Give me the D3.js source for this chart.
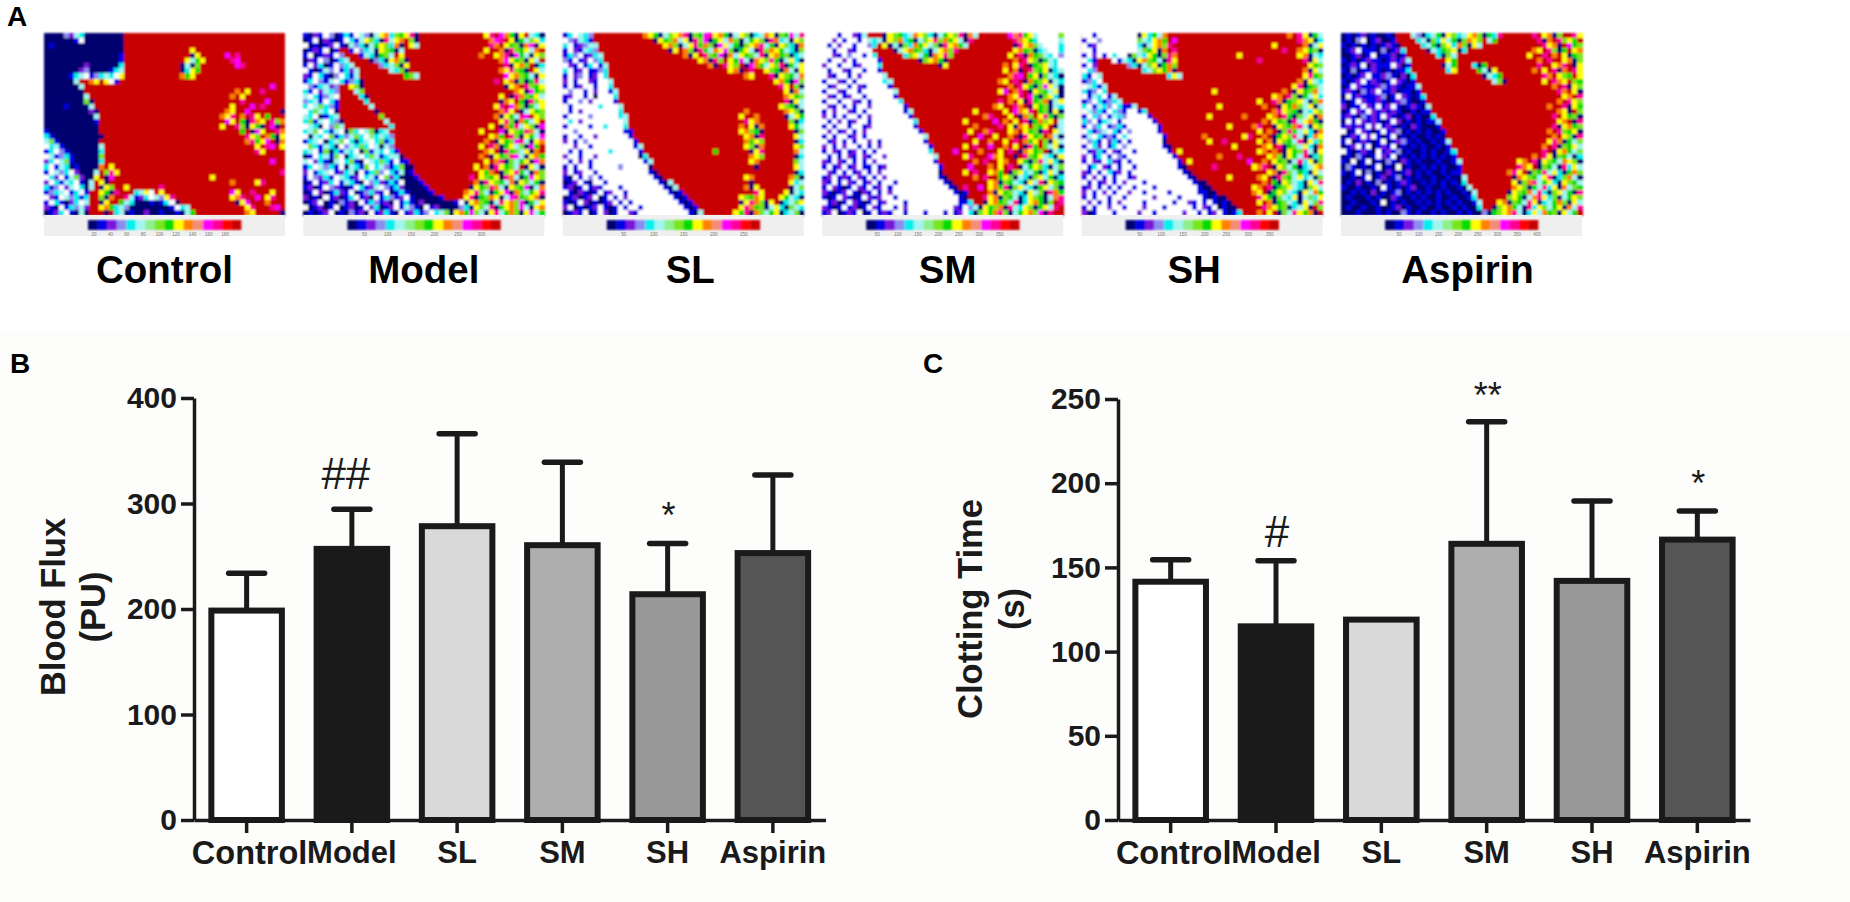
<!DOCTYPE html>
<html>
<head>
<meta charset="utf-8">
<script src="https://cdn.jsdelivr.net/npm/d3@7"></script>
<style>
  html, body { margin: 0; padding: 0; background: #ffffff; }
  svg { display: block; }
  text { font-family: "Liberation Sans", Arial, sans-serif; fill: #1a1a1a; }
</style>
</head>
<body>
<div id="chart-container"></div>
<script>
const categories = ["Control", "Model", "SL", "SM", "SH", "Aspirin"];

// panel B
const fluxValues = [198.5, 257, 278.5, 260.5, 214, 253];
const fluxErrors = [234, 294.5, 366, 339, 262, 327];
const fluxTicks = [0, 100, 200, 300, 400];
const fluxMarks = ["", "##", "", "", "*", ""];

// panel C
const clotValues = [141.5, 115, 119, 164, 142, 166.5];
const clotErrors = [154.5, 154, 119, 236.5, 189.5, 183.5];
const clotTicks = [0, 50, 100, 150, 200, 250];
const clotMarks = ["", "#", "", "**", "", "*"];

const barColors = ["#ffffff", "#1a1a1a", "#d9d9d9", "#aeaeae", "#999999", "#555555"];

// panel A, legend of the laser images
const scaleCodes = "nbplcahieyosmkfr".split("");
const scaleColors = ["#00006e", "#0000e6", "#7814dc", "#8c8cf0", "#00f0f0", "#a0f5f0", "#8cf08c", "#78e61e",
                     "#00dc00", "#ffff00", "#ff8000", "#f58c78", "#ff00ff", "#ff0096", "#ff0000", "#c80000"];
const legendTicks = [
  [20, 40, 60, 80, 100, 120, 140, 160, 180],
  [50, 100, 150, 200, 250, 300],
  [50, 100, 150, 200, 250],
  [50, 100, 150, 200, 250, 300, 350],
  [50, 100, 150, 200, 250, 300, 350],
  [50, 100, 150, 200, 250, 300, 350, 400]
];

const controlCells = [
"nnnnlpacnnnn nnnnrrrrrrrr rrrrrrrrrrrr rrrrrrrrrrrr",
"nnnnnnbwnnnn nnnnrrrrrrrr rrrrrrrrrrrr rrrrrrrrrrrr",
"nbnnnnnnnnnn nnnnrrrrrrrr rrrrrrrrrrrr rrrrrrrrrrrr",
"nnnnnnnnnnnn nnnnrrrrrrrr rrrrryrrrrrr rrrrrrrrrrrr",
"nnnnnnnnnnnn nnnbrrrrrrrr rrrrrgyrrrrr mrkrrrrrrrrr",
"nnnnnnnnnnnn nnnbrrrrrrrr rrrryaeyrrrr rkmrrrrrrrrr",
"nnnnnnnnpnnn nnncrrrrrrrr rrrgagirrrrr rrmkrrrrrrrr",
"nnnnnnnplnnn nbcarrrrrrrr rrrgcyerrrrr rrrrrrrrrrrr",
"nnnnnbcawblc acwyrrrrrrrr rrroeyrrrrrr rrrrrrrrrrrr",
"nnnnnnarroyr ywbrrrrrrrrr rrrrrrrrrrrr rrrrrrrrrrrr",
"nnnnnnnarrrr rrrrrrrrrrrr rrrrrrrrrrrr rrrrrrrrrmrr",
"nnnnnnnnrrrr rrrrrrrrrrrr rrrrrrrrrrrr rroryrrkrrrr",
"nnnnnnnnarrr rrrrrrrrrrrr rrrrrrrrrrrr roryrrrrrrrr",
"nnnnnnnnigrr rrrrrrrrrrrr rrrrrrrrrrrr rrrkrrrrmrrr",
"nnnnbnnnnarr rrrrrrrrrrrr rrrrrrrrrrrr ryrrrmrkrrrr",
"nnnnnnnnnpgr rrrrrrrrrrrr rrrrrrrrrrrr oyrrmrrrrrrg",
"nnnnnnnnnnar rrrrrrrrrrrr rrrrrrrrrrro ykrorkyrerrr",
"nnnnnnnnnnbr rrrrrrrrrrrr rrrrrrrrrrrr myregkoyrkio",
"nnnnnnnnnnnr rrrrrrrrrrrr rrrrrrrrrrry rrkigyegrmgr",
"bnnnnnnnnnnr rrrrrrrrrrrr rrrrrrrrrrrr rrrergmyrrko",
"cbnnnnnnnnng rrrrrrrrrrrr rrrrrrrrrrrr rrrrkyiroegy",
"aibnnnnnnnnr rrrrrrrrrrrr rrrrrrrrrrrr rrrrokeymrgo",
"wcabnnnnnnna rrrrrrrrrrrr rrrrrrrrrrrr rrrrrryrkmry",
"bcwlbnnnnnnc rrrrrrrrrrrr rrrrrrrrrrrr rrrrrrkyrrrr",
"wablcbnnnnni rrrrrrrrrrrr rrrrrrrrrrrr rrrrrrrrrrrr",
"pcwaibnnnnnc rrrrrrrrrrrr rrrrrrrrrrrr rrrrrrrrrmrr",
"cwbacgbnnnno ryrrrrrrrrrr rrrrrrrrrrrr rrrrrrrrrrrr",
"bwalcwpnnnar ikyrrrrrrrrr rrrrrrrrrrrr rrrrrrrrrrrk",
"wcpwbaipnnyr gmrrrrrrrrrr rrrrrrrrryrr rrrrrrrrrrrr",
"pwcbacwbnary grrrrrrrrrrr rrrrrrrrrrrr rorrrrykrrrr",
"cblwpawcnarg yirryrrrrrrk rrrrrrrrrrrr rrrrrrrrrrrr",
"blcawbcwbrry egkrrrcaywry rrrrrrrrrrrr rmyrrkrrryrr",
"wpbwalcbcrri gorrkabpcwal ykrrrrrrrrrr ryokrrmrykrr",
"bwcbnpcwarrg yrreacnnnbnb cwgrrrrrrrrr rrgymrrrorrr",
"pbnwbclaprry oecalnnnnnnn nbwcarrrrrrr rrrrykrrrkmr",
"nbpcwbnagrrr grcanbnnpnnb nnbnaerrrrrr rrrroyrrrrrg"
];

const modelCells = [
"bnpbwlnbcbwa lgayocieykgr rrrrrrrrrrrr ykrmoegyracg",
"nbwnpbnbwcba yicgkayorigr rrrrrrrrrrrr romkrygeaiyc",
"wnbnbpwbnalc gaeyicogryar rrrrrrrrrrrr rkoryeigomgy",
"nbpbwnbrrbwl cagyiegarrrr rrrrrrrrrrrr yrrogkieyaor",
"bwnbpbwlrrrb acgeiaryrrrr rrrrrrrrrrro rryokgmeagyi",
"npbwlnbcarrr rnlcgyoigrrr rrrrrrrrrrrr rrromyeigyar",
"bwpcnbwlcarr rrrlcaigyrrr rrrrrrrrrrrr rrrrkgyoirgc",
"wbnbalwbcpar rrrrracigrrr rrrrrrrrrrrr rrroykiegrya",
"pbwcbnlwcbar rrrrrrrreiar rrrrrrrrrrrr rrrrmyoieagy",
"bcwlbawcblcg rrrrrrrrrrrr rrrrrrrrrrrr rrkryogigeka",
"wlbcaplrryig rrrrrrrrrrrr rrrrrrrrrrrr rrrrgyorkiey",
"cbwpaclrrrai rrrrrrrrrrrr rrrrrrrrrrrr rrrrrroygmei",
"awcblawrrrrc grrrrrrrrrrr rrrrrrrrrrrr rrryrgkoieya",
"lcabwcbrrrrr crrrrrrrrrrr rrrrrrrrrrrr rrrgoyregkiy",
"cwaiclbrrrrr rarrrrrrrrrr rrrrrrrrrrrr rrykrmoigeay",
"wciacwgrrrrr rrgrrrrrrrrr rrrrrrrrrrrr rrrokyrgayei",
"acwgbcarrrrr rrrirrrrrrrr rrrrrrrrrrrr rrogyeakmryi",
"cibawclgrrrr rrrrarrrrrrr rrrrrrrrrrrr rrrykigoeayr",
"wacgwliarrrr rrrrrcrrrrrr rrrrrrrrrrrr ryrgoekayigm",
"caiwcbawgicw aigcarrrrrrr rrrrrrrrrrry rrrmgyiekoag",
"wgacwibclaic whcaclrrrrrr rrrrrrrrrrrr ryoerkigyeam",
"bcawgcaiwcgc awcibcrrrrrr rrrrrrrrrrrr orgyeimkagyo",
"wicbacgwlaci cwagalrrrrrr rrrrrrrrrrry rkogeyaigmer",
"cawbigcbacwg ibacwcbrrrrr rrrrrrrrrrrr oyrgkeiaygor",
"gbwcabiwgcaw ciabcaanrrrr rrrrrrrrrrro rgyeikmagyoe",
"awpcbgawcibg wacicbwbbrrr rrrrrrrrrrrr yrokgiaeygmo",
"bcwalcbwgacb iwcalbcinnrr rrrrrrrrrryr ogkyeiargyag",
"pwbcawbpcagw bcilwcbanbrr rrrrrrrrrrry eorgiykeagoi",
"bwlpcbwacbpw cabwipcnnnbr rrrrrrrrrkry ieygkoagemyi",
"nbwbpcwbacbn wlcpbcbwnnnb rrrrrrrrrrog kyieaogyiaeg",
"bpnbwlpbnbwc bpawlbcpnnnn brrrrrrrrgye ikoagyiemgao",
"nbwpnbcpbwnb lcpbwnbcbnnn nbrrrrrroyki ageymgoiaeyk",
"pnbnwbpnbcwb pnwbclbpwbnn nnnbrrrrykge ioygamkeiyog",
"nbpwnbnlbpnw bclbpnwbcbnp nnnnnnbwgyoi egakyoimgeay",
"wnbpnbwnbpnb wpcnbpwbalbn wbpnnnnlcgyi akgeyoimagyo",
"nbnbpwnbnlbp nwbpcbnwbpcb lwcaigyoemia gykaeoigymae"
];

const slCells = [
"bcwaclrrrrrr rrrroyegaiyo kgiemkyoegay igcaoygiemak",
"wlpacbrrrrrr rrrrrrgyeioa ygkimgeyaoig aeyigkocagyi",
"cwbplaarrrrr rrrrrrrryoig aykeoigmyaeg iyokaegyicgo",
"bwpbaclrrrrr rrrrrrrrrgyr oigkeaoymige yagkioyeacgi",
"bclwbpcarrrr rrrrrrrrrrrr ogyrkiemgoay eiakgyoeigca",
"lbwbpwlcrrrr rrrrrrrrrrrr rrryogkiryem agoyikegaycg",
"wpbwbcwbarrr rrrrrrrrrrrr rrrrrogrkyir gmoeayikgeay",
"cwbpwbblcrrr rrrrrrrrrrrr rrrrrrrrryog rkrryiegoagy",
"bwplwbpwcrrr rrrrrrrrrrrr rrrrrrrrrrrr oyrrrkgyieao",
"pwbwwpbwwarr rrrrrrrrrrrr rrrrrrrrrrrr rrrrrryoegmi",
"bwbpwwbwwcrr rrrrrrrrrrrr rrrrrrrrrrrr rrrrrrrkyrig",
"wlwwbwpwwbar rrrrrrrrrrrr rrrrrrrrrrrr rrrrrrrrygoa",
"bpwwbwgwwwcr rrrrrrrrrrrr rrrrrrrrrrrr rrrrrrrroyei",
"bwwlwpwwwwbr rrrrrrrrrrrr rrrrrrrrrrrr rrrrrrrrkgya",
"wbwwwwwcwwwa rrrrrrrrrrrr rrrrrrrrrrrr rrrrrrryiega",
"wbwpwwwwwwwc rrrrrrrrrrrr rrrrrrrrrrrr orrrrrrroyig",
"bwwwwlwwwwwc arrrrrrrrrrr rrrrrrrrrrry rrorrrrrgaye",
"wcwpwwwwwwww arrrrrrrrrrr rrrrrrrrrrrr kyorrrrrrigc",
"bwwwwbwwcwww crrrrrrrrrrr rrrrrrrrrrro rygorrrrryea",
"wwlwwwwwwwww bbrrrrrrrrrr rrrrrrrrrrry oiegrrrrrrgi",
"bwwbwwpwwwww wbrrrrrrrrrr rrrrrrrrrrrr yogkrrrrrrya",
"pwbwlwwwwwww wwbrrrrrrrrr rrrrrrrrrrrr oeyirrrrrrgc",
"wwpwwbwwwwww wwbarrrrrrrr rrrrrrrrrrrr yigorrrrrryi",
"wbwbwwwwwcww wwwbrrrrrrrr rrrrrrerrrrr rgykrrrrrroa",
"pwwbwwpwwwww wwwncrrrrrrr rrrrrrrrrrrr royirrrrrrgc",
"wbwpwbwwwwww wwwwbarrrrrr rrrrrrrrrrrr ryorrrrrrria",
"bwbwwbwwwwwl wwwwwnrrrrrr rrrrrrrrrrrr rrgrrrrrrrya",
"pwbpwwbwwwww wwwwwbnrrrrr rrrrrrrrrrrr rrrrrrrrrrgc",
"bnwbwlwbwwww wwwwwwbnrrrr rrrrrrrrrrrr yorrrrrrroig",
"nbpwbnwwbwww wwwwwwwbnarr rrrrrrrrrrrr rgrrrrrrryca",
"bpnbwbpbwwwb wwwwwwwwbnar rrrrrrrrrrrr ogyrrrrrrgai",
"wbnpbnbwbpww bwwwwwwwwbnb rrrrrrrrrrrr rrkyrrrrygac",
"nbpnbpwnbwbw pwwwwwwwwwbn brrrrrrrrrry ieoyrrryeacg",
"bnbwpnbnbpwb wbwwwwwwwwwb nbrrrrrrrrrg ykoigyrgcaiy",
"pwnbnbpwbnbw bwwbwwwwwwww bnbrrrrrrrry koeigaycgiac",
"nbpbwnbwpnbw wpbwwwwwwwww wbnarrrrrrye kgoiaeygcaig"
];

const smCells = [
"wwwbwwpbarrr gyiecaoyicga eyikgoarrrrr rmokeyawwwwi",
"wwpwbwwbwaca gyiocegaiyki oeyagkrrrrrr rrkoyecwwwwa",
"wbwpwwbwwlcr ygagicoeyaig kyoearrrrrrr rrgkyoiawwwc",
"wwbwwpbwwwrr rrgayoeicgay oikrrrrrrrrr rryoeigcawwc",
"wwpbwlwwbwcr rrrrciyaegoy kirrrrrrrrrr ryrkgoeiacwl",
"wbwwpwbwwwwb rrrrrrrgiyoe grrrrrrrrrrr rrorkyigeacw",
"pwwbwwbpwwwc rrrrrrrrrrrg yrrrrrrrrrrr orykrgeiyacw",
"wbwwpbwwbwwb rrrrrrrrrrrr rrrrrrrrrrrr yrogrkieygca",
"wpbwwbwpwwww arrrrrrrrrrr rrrrrrrrrrrr rokmreygiacg",
"bwwpbwbwwwww carrrrrrrrrr rrrrrrrrrrro yrkrgoeiygac",
"wbpwwbwpbwww wbrrrrrrrrrr rrrrrrrrrrrr rorkyegimyag",
"bwwpbwwbwwww wwarrrrrrrrr rrrrrrrrrrry mrokrgyieayg",
"wpbwbpwwbwww wwbrrrrrrrrr rrrrrrrrrrrr roykrmegiycg",
"bwwbwwpbwbww wwwcrrrrrrrr rrrrrrrrrrrk rorygkeiogay",
"wpbwbwbwwpww wwwwbrrrrrrr rrrrrrrrrroy rrkorgyeigac",
"bwpwwpbwbwww wwwwbarrrrrr rrrrrryrrrrr yrmoykreigyg",
"pwbwbwwbwpww wwwwwbrrrrrr rrrrrrrrokrr ryrgoirykegi",
"wbwpwbpwwbww wwwwwwcrrrrr rrrryrrrrrmr oryrkgeoiyra",
"bwbwwbwwbpww wwwwwwbrrrrr rrrrrrorrrrk rygoyrieyrga",
"wpwbpwbwpwww wwwwwwwbrrrr rrrrryrrokrr ryoryeigkrya",
"bwbwwbpwbwww wwwwwwwwarrr rrrrkrrmrryr rorgkyeiroag",
"wbpwbwbwwpwb wwwwwwwwbrrr rrrrrryrrorr yrkroeyrigya",
"pwbwpwwbwbwp wwwwwwwwwbrr rrrryrkrrmrr oryrgkeriayg",
"bwpbwbpwbwbw wwwwwwwwwcrr rrmrrrrorrry rkrgoyeirgac",
"wbwbwpbwpbww pwwwwwwwwwar rrrrykrrrmoy rrgrkieyacgy",
"pbwpbwbwbwpw wwwwwwwwwwbr rrrrrrorkrry orryegikaycg",
"bwbpwbpwbbwb pwwwwwwwwwwb rrrrrmrrrory rkrgaeyicgai",
"wpbwbwbpwbwp wwwwwwwwwwwn rrrryrkrryoe rgiycaegcyag",
"bpwbpbwpbwbw pwwwwwwwwwwb nrrrrrorkrre yigacgiyaegc",
"pbwbwpbwbpwb wwbwwwwwwwww bnrrrrrrryog ieacgyakgyie",
"bwpbnbwpbwbp wbwwwwwwwwww wbnrkrrmryoe kgiyacgeyaig",
"pbnbpwbnpbwb wpwwwwwwwwww wwbnbrrrrogy eiacgyaigkoe",
"bnbwpbnbwpbp wwbwwwwwwwww wwwbnrrrkyog ieagcyiegaok",
"wbpnbwpbnbwb pwwwbwwwwwww wwwbbcrrgyoe iakgcyoegirk",
"pbnbwbpnbwpb wwbwpwwwwwww wwpbwlagyeio gkacyigeyakr",
"bpwnbpbwnbwb pbwwbwwwbwww bwbpwcgiyeok igaeyoimgkrr"
];

const shCells = [
"wwbwwwwwwwwg yceaorrrrrrr rrrrrrrrrrrr rrrrrorkygea",
"bwwlwwwwwwwi acyoermrrrrr rrrrrrrrrrrr rrrrrrrkoygc",
"wbpwwwwwwwwc gayoikrrrrrr rrrrrrrrrrrr rryrrrrrogay",
"wwbwwwwwwwwa ieygorkrrrrr rrrrrrrrrrrr rrrrkrroyeig",
"bwpwbwcwwgia cyegikorrrrr rrrrrrryrrrr rrrrrrryogac",
"wcbrrrwbacgy oieagkyrrrrr rrrrrrrrrrrk rrrrrrrrkgya",
"bwprrrrrrlcg aiygeoirrrrr rrrrrrrrrrrr rrrrrrrrryei",
"wclrrrrrrrrr caiyeogrrrrr rrrrrrrrrrrr rrrrrrrrogya",
"cbwarrrrrrrr rrrrrcyarrrr rrrrrrrrrrrr rrrrrrrrykei",
"blcwrrrrrrrr rrrrrrrrrrrr rrrrrrrrrrrr rrrrrrrogyac",
"wacbarrrrrrr rrrrrrrrrrrr rrrrrrrrrrrr rrrrrrykgeia",
"cblwcrrrrrrr rrrrrrrrrrrr rryrrrrrrrrr rrrrorgyeioa",
"wbacwbarrrrr rrrrrrrrrrrr rrrrrrrrrrrr rryorkigeayc",
"blwcblcarrrr rrrrrrrrrrrr rrrrrrrrrrry rrkogeiyagio",
"cwbaclwcbbar rrrrrrrrrrrr rrryrrrrrrrr orrgyeoiayga",
"walcbwclbwwb crrrrrrrrrrr rrrrrrrrrrrr rrokyiegacyi",
"bwclwbaclwww wbrrrrrrrrrr ryrrrrrrorrr ryorkegiaygo",
"clwbcawbwwww wwbrrrrrrrrr rrrrrrrrrrrr oryeigkayoeg",
"bwlcwblcbwww wwwbrrrrrrrr rrrrryrrrrok rrgyieokagyi",
"wcblawcbwlww wwwbrrrrrrrr rrrrrrrrrrry rorgikeaycgo",
"bawcblbwcwww wwwwbrrrrrrr orrrrrrrykrr orgeyikagcoy",
"wlcbwpcbwbww wwwwnrrrrrrr ryrrkrrrrrry rogyieakgyci",
"bwcpwbcwlwww wwwwbnrrrrrr rrrrrryrrrrr oyrkgeiaycgo",
"wbpcbwpbwwbw wwwwwbryrrrr rrrrrrrrrrry ororgyeikagy",
"pwbcwbwlbwww wwwwwwbrrrrr rrrorrrkrrrr ryoigyeakgci",
"bwpbwcpbwbww wwwwwwwbryrr rrrrrrrrrmrr oryeigakcygi",
"wbcwpbwbwwbw wwwwwwwbnrrr rrkrrrrrrryo krgyiaegcayo",
"pbwbwcbpwbww wwwwwwwwbnrr rrrrrrrrrrrr ryogkiaecgya",
"bwpwbwbwwbpw wwwwwwwwwbnr rrrrryrrrrro yrgkieaycagi",
"wbwbpwbwpwww bwwwwwwwwwbn nrrrrrrrrrrr oregyiacgyak",
"bpwbwbwbwwbw wwbwwwwwwwwb nnrrrrrrrryo rkgeiyacgiya",
"pwbwpwbwwpww bwwwwbwwwwwb bnnrrrrrrroy rgeyiacgyaoe",
"bwbwwbwwbwww wwpwwwwbwwww bnbnnrrrrrrk yegiacygaicy",
"wpwbwbwpwwww bwwwwwbwwpbw bwbnbnrrrrry rogeiacgyaik",
"bwbwwpwwbwww pwwwbwwwwwbw pbwnbnnrrrrr koyeigcaygri",
"pnbwwwbwwwwp wwbwwwwwpwwb wbpwbnbcrrro ryrgiakyeogr"
];

const aspirinCells = [
"nbnbpnbnnbnr rralgcaegyic ayoigeckrrrr rrkryogirrky",
"nbnlwnbpnnbr rrrcagicyaeg ioyiraerrrrr rrrkgorkiyer",
"bnbnbnbnbpbn rrrrcaegiyco igyarrrrrrrr rrrrkyogrmei",
"nbpwbbbnlnbp crrrrgaceiyg crrrrrrrrrrr rroyrkigeryo",
"nnbpnbwnbbpn brrrrrrcgiar rrrrrrrrrrrr ryrrkrorygei",
"bnbnbpbbnbpb parrrrrrryer rrrrrrrrrrrr rrrorkrryogi",
"nbpbwnpbbbwp nbrrrrrrgaer rrcgerrrrrrr rrrkrryokrgy",
"bnlnbbpbnbnb bcrrrrrrrcyr rrreagyrrrrr rroryrkgorky",
"nbnbpwbbplbn pncrrrrrrrrr rrrrgacerrrr rrrrkoryiery",
"bnbpwbpbnbwp bnbrrrrrrrrr rrrrrraigrrr rrrryrkoyrie",
"nbwpbbbplbpb nbbarrrrrrrr rrrrrrrrrrrr rrrrrrorkgyi",
"bpbnlbpwbbpn bbnbrrrrrrrr rrrrrrrrrrrr rrrrrrrkoryg",
"nwbpbbbplnbw pbnbcrrrrrrr rrrrrrrrrrrr rrrrrrrryork",
"bnbwpbbpbnbp lbnnbrrrrrrr rrrrrrrrrrrr rrrrrrrorkyi",
"pnbbwpbwbpwb nbpbnarrrrrr rrrrrrrrrrrr rrrrrorrkgye",
"nbwpbwpbpbpb nnbnbbrrrrrr rrrrrrrrrrrr rrrrrrroygri",
"bpbnlbpbwpbn bpnbnncrrrrr rrrrrrrrrrrr rrrrrrkryeig",
"nwbwpbpbnbwp nbnbnbbarrrr rrrrrrrrrrrr rrrrrrryorgk",
"bpbpbwpwbpbn bnpbnnnbrrrr rrrrrrrrrrrr rrrrrrkgyoei",
"wnbwpbnbwbpl nbnbnbnnbrrr rrrrrrrrrrrr rrrrrorkieyg",
"nbpbwpwbnbwn bnbnnbnbnrrr rrrrrrrrrrrr rrrrrroryigk",
"bwnbpbnbwnbp lbnbnnbnbarr rrrrrrrrrrrr rrrrrykogeai",
"nbpwbwnbpbwn bnbnbnnbnbrr rrrrrrrrrrrr rrrrorkgieya",
"wbnbpbnwbpbl nbnnbnbnnbcr rrrrrrrrrrrr rrrrkrgyoeai",
"nbnlbnbwpbwn bnbnbnbnbnbr rrrrrrrrrrrr rrorkygieagc",
"bnwnbwnbnlbn pbnbnnnbnnba rrrrrrrrrrry orkgyieaoyig",
"nlbnbnbwnbnw nbnnbnbnbnnb rrrrrrrrrrrk oyrgieagkcya",
"bnbwnlnbnpbn bpnbnbnnbnbb rrrrrrrrroky rgiekaycgeoi",
"nnbnbwnbpnbl nbnbnnbnnbnn arrrrrrrrrgo yieaykgcioag",
"nbnpnbnlnbnb pbnnbnbnbnbn crrrrrrrrryg iokaeycgyiea",
"bnnbnnbnwbnb nbpnnbnnbnnb narrrrrrrroy igeakcygoaie",
"nnbnbnpnbnbl nbnbnbnbnbnn bnarrrrrrgyi eoakcgiyaegk",
"nbnnnbnbnnpb nnbnbnnbnnbn nbcrrrrrriye gaokycigaeyi",
"nnbnnnbnwnbn bnnbnbnbnbnb nnbarrryogie akygcaeoigya",
"nbnnbnnbnnbp nbnnbnnbnnbn bnncrrgiyoea gkcyiaeygoak",
"nnnbnnnbnbnn lbnbnnbnbnnb nbnnlgeiyoka gcyaoeigyaer"
];

const panels = [controlCells, modelCells, slCells, smCells, shCells, aspirinCells];

const svg = d3.select("#chart-container")
    .append("svg")
    .attr("width", 1850)
    .attr("height", 902);

const cellColor = d3.scaleOrdinal().domain(scaleCodes.concat("w")).range(scaleColors.concat("#ffffff"));

// lower part of the figure has a faint warm background
svg.append("rect").attr("x", 0).attr("y", 330).attr("width", 1850).attr("height", 572).attr("fill", "#fdfdfb");

svg.append("defs").append("filter").attr("id", "soft")
    .append("feGaussianBlur").attr("stdDeviation", 0.8);

// --- panel A
const panelX = d3.scaleBand().domain(categories).range([44, 1582]).paddingInner(0.0712);
const imgTop = 33, imgH = 182, stripH = 21;
const legendLeft = [50, 61, 61, 55, 58, 58];
const legendStep = [16.4, 23.4, 30, 20.4, 21.7, 19.7];
const titleShift = [0, 0, 7, 5, -8, 6];

categories.forEach((name, p) => {
    const rows = panels[p].map(r => r.replace(/ /g, ""));
    const gx = panelX(name);
    const w = panelX.bandwidth();
    const cx = d3.scaleBand().domain(d3.range(48)).range([gx, gx + w]);
    const cy = d3.scaleBand().domain(d3.range(36)).range([imgTop, imgTop + imgH]);

    const g = svg.append("g").attr("filter", "url(#soft)");
    g.append("rect").attr("x", gx).attr("y", imgTop).attr("width", w).attr("height", imgH).attr("fill", "#c80000");

    const cells = [];
    rows.forEach((row, j) => row.split("").forEach((c, i) => {
        if (i < 48 && j < 36) cells.push({i: i, j: j, c: c});
    }));
    g.selectAll("rect.cell")
        .data(cells)
        .enter()
        .append("rect")
        .attr("class", "cell")
        .attr("x", d => cx(d.i))
        .attr("y", d => cy(d.j))
        .attr("width", cx.bandwidth() + 0.5)
        .attr("height", cy.bandwidth() + 0.5)
        .attr("shape-rendering", "crispEdges")
        .attr("fill", d => cellColor(d.c));

    // grey strip + colour legend
    svg.append("rect").attr("x", gx).attr("y", imgTop + imgH).attr("width", w).attr("height", stripH).attr("fill", "#efefef");
    const lx = d3.scaleBand().domain(scaleColors).range([gx + 44, gx + 197]);
    svg.append("g").attr("filter", "url(#soft)").selectAll("rect")
        .data(scaleColors)
        .enter()
        .append("rect")
        .attr("x", d => lx(d))
        .attr("y", imgTop + imgH + 5)
        .attr("width", lx.bandwidth() + 0.3)
        .attr("height", 10)
        .attr("fill", d => d);

    svg.append("g").selectAll("text")
        .data(legendTicks[p])
        .enter()
        .append("text")
        .attr("x", (d, i) => gx + legendLeft[p] + i * legendStep[p])
        .attr("y", imgTop + imgH + 20.5)
        .attr("text-anchor", "middle")
        .style("font-size", "4.5px")
        .style("fill", "#777")
        .text(d => d);

    svg.append("text")
        .attr("x", gx + w / 2 + titleShift[p])
        .attr("y", 283)
        .attr("text-anchor", "middle")
        .style("font-size", "38.5px")
        .style("font-weight", "bold")
        .style("fill", "#000")
        .text(name);
});

// --- panels B and C
function barPanel(o) {
    const x = d3.scaleBand()
        .domain(categories)
        .range([o.left, o.right])
        .paddingInner(0.33)
        .paddingOuter(0.165);
    const y = d3.scaleLinear().domain([0, o.max]).range([820, o.top]);

    // error bars first, the bars sit over them
    const errs = categories.map((c, i) => ({c: c, v: o.values[i], e: o.errors[i]})).filter(d => d.e > d.v);
    const center = d => x(d.c) + x.bandwidth() / 2;
    const eb = svg.append("g").attr("stroke", "#1a1a1a");
    eb.selectAll("line.stem").data(errs).enter().append("line")
        .attr("class", "stem")
        .attr("x1", center).attr("x2", center)
        .attr("y1", d => y(d.v)).attr("y2", d => y(d.e))
        .attr("stroke-width", 5);
    eb.selectAll("line.cap").data(errs).enter().append("line")
        .attr("class", "cap")
        .attr("x1", d => center(d) - 18).attr("x2", d => center(d) + 18)
        .attr("y1", d => y(d.e)).attr("y2", d => y(d.e))
        .attr("stroke-width", 5.5)
        .attr("stroke-linecap", "round");

    svg.append("g").selectAll("rect")
        .data(categories)
        .enter()
        .append("rect")
        .attr("x", d => x(d))
        .attr("y", (d, i) => y(o.values[i]))
        .attr("width", x.bandwidth())
        .attr("height", (d, i) => 820 - y(o.values[i]))
        .attr("fill", (d, i) => barColors[i])
        .attr("stroke", "#1a1a1a")
        .attr("stroke-width", 6);

    // significance marks
    svg.append("g").selectAll("text")
        .data(categories.map((c, i) => ({c: c, m: o.marks[i], e: o.errors[i]})).filter(d => d.m))
        .enter()
        .append("text")
        .attr("x", d => center(d) + (d.m == "##" ? -6 : 1))
        .attr("y", d => y(d.e) + o.markDy[d.m])
        .attr("text-anchor", "middle")
        .style("font-size", d => d.m.includes("#") ? "44px" : "36px")
        .text(d => d.m);

    const yAxis = svg.append("g")
        .attr("transform", `translate(${o.left},0)`)
        .call(d3.axisLeft(y).tickValues(o.ticks).tickSize(13).tickPadding(4).tickSizeOuter(0));
    const xAxis = svg.append("g")
        .attr("transform", "translate(0,820)")
        .call(d3.axisBottom(x).tickSize(13).tickPadding(8).tickSizeOuter(0));
    [yAxis, xAxis].forEach(a => {
        a.selectAll("path").attr("stroke", "#1a1a1a").attr("stroke-width", 3.5);
        a.selectAll("line").attr("stroke", "#1a1a1a").attr("stroke-width", 3.5);
    });
    yAxis.selectAll("text").style("font-size", "30px").style("font-weight", "bold").style("fill", "#1a1a1a");
    xAxis.selectAll("text").style("font-size", "31px").style("font-weight", "bold").style("fill", "#1a1a1a");
    // "Control" runs right up against "Model" in the original
    xAxis.selectAll("text").filter(d => d == "Control").style("font-size", "32.5px").attr("dx", 3);

    // axis titles
    o.title.forEach((t, i) => {
        svg.append("text")
            .attr("transform", `translate(${o.titleX[i]},${o.titleY}) rotate(-90)`)
            .attr("text-anchor", "middle")
            .style("font-size", "34.5px")
            .style("font-weight", "bold")
            .text(t);
    });
}

barPanel({
    left: 194, right: 825.5, top: 398, max: 400,
    values: fluxValues, errors: fluxErrors, ticks: fluxTicks, marks: fluxMarks,
    markDy: {"##": -20, "*": -16},
    title: ["Blood Flux", "(PU)"], titleX: [65, 105], titleY: 607
});

barPanel({
    left: 1118, right: 1750, top: 399, max: 250,
    values: clotValues, errors: clotErrors, ticks: clotTicks, marks: clotMarks,
    markDy: {"#": -14, "*": -15, "**": -14},
    title: ["Clotting Time", "(s)"], titleX: [982, 1024], titleY: 609
});

// panel letters
[["A", 7, 26], ["B", 10, 373], ["C", 923, 373]].forEach(d => {
    svg.append("text")
        .attr("x", d[1])
        .attr("y", d[2])
        .style("font-size", "28px")
        .style("font-weight", "bold")
        .style("fill", "#000")
        .text(d[0]);
});
</script>
</body>
</html>
